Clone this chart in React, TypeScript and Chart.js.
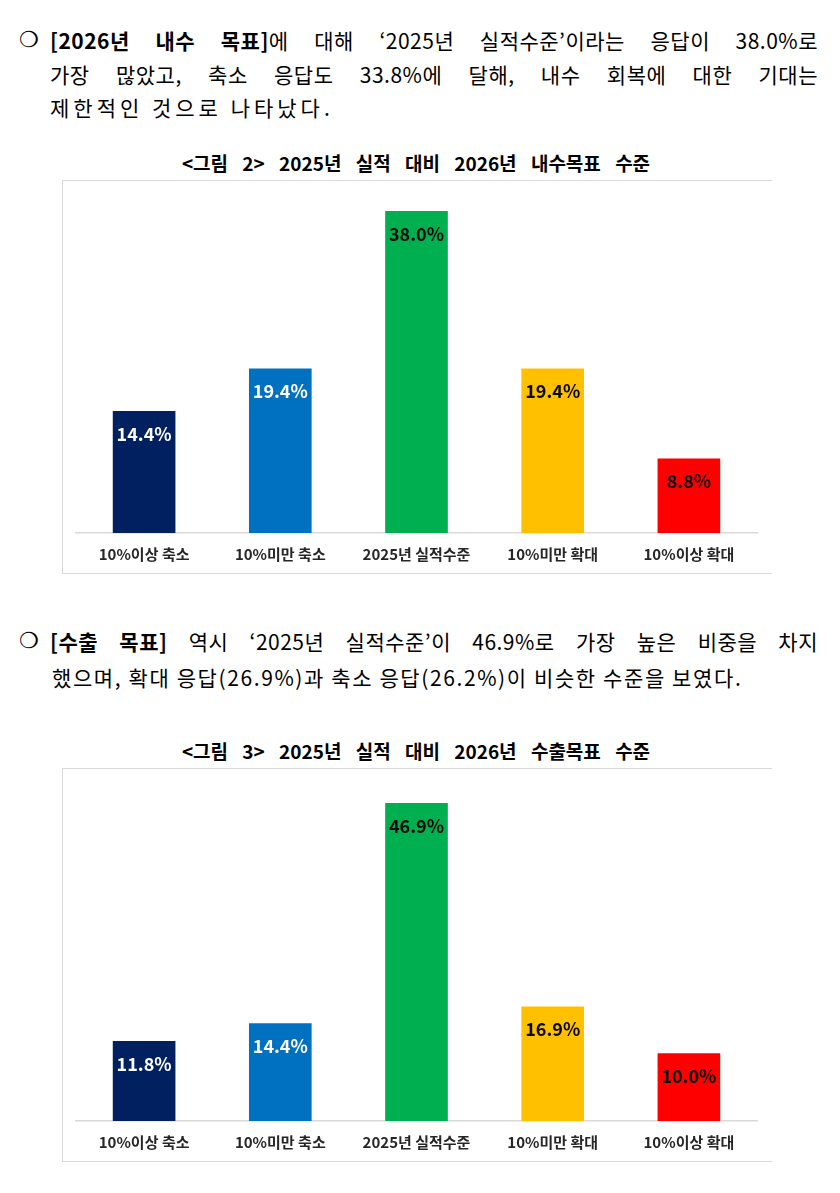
import React, { useEffect, useRef } from "react";
import { Chart, registerables } from "chart.js";

Chart.register(...registerables);

const categories = ["10%이상 축소", "10%미만 축소", "2025년 실적수준", "10%미만 확대", "10%이상 확대"];
const domesticValues = [14.4, 19.4, 38.0, 19.4, 8.8];
const exportValues = [11.8, 14.4, 46.9, 16.9, 10.0];
const barColors = ["#002060", "#0070C0", "#00B050", "#FFC000", "#FF0000"];
const labelColors = ["#ffffff", "#ffffff", "#0a0a0a", "#0a0a0a", "#0a0a0a"];
const domesticMax = 40;
const exportMax = 50;

const KFONT = '"Noto Sans CJK KR", "Noto Sans", sans-serif';

const labelPlugin = {
  id: "barLabels",
  afterDatasetsDraw(chart: any) {
    const ctx = chart.ctx;
    const meta = chart.getDatasetMeta(0);
    const data = chart.data.datasets[0].data as number[];
    ctx.save();
    ctx.font = `bold 18px ${KFONT}`;
    ctx.textAlign = "center";
    ctx.textBaseline = "middle";
    meta.data.forEach((el: any, i: number) => {
      ctx.fillStyle = labelColors[i];
      ctx.fillText(`${data[i].toFixed(1)}%`, el.x, el.y + 23);
    });
    ctx.restore();
  },
};

function BarChart({ values, max, top }: { values: number[]; max: number; top: number }) {
  const ref = useRef<HTMLCanvasElement>(null);
  useEffect(() => {
    if (!ref.current) return;
    const chart = new Chart(ref.current, {
      type: "bar",
      data: {
        labels: categories,
        datasets: [
          {
            data: values,
            backgroundColor: barColors,
            barPercentage: 0.46,
            categoryPercentage: 1,
          },
        ],
      },
      options: {
        animation: false,
        responsive: false,
        maintainAspectRatio: false,
        layout: { padding: { left: 14, right: 14, top: 14, bottom: 0 } },
        plugins: {
          legend: { display: false },
          tooltip: { enabled: false },
          title: { display: false },
        },
        scales: {
          x: {
            grid: { display: false, drawTicks: false },
            border: { display: true, color: "#d9d9d9", width: 1.5 },
            ticks: {
              padding: 12,
              color: "#262626",
              font: { family: KFONT, size: 15, weight: "bold" },
            },
          },
          y: { display: false, min: 0, max: max },
        },
      },
      plugins: [labelPlugin],
    } as any);
    return () => chart.destroy();
  }, [values, max]);
  return (
    <>
      <div
        style={{
          position: "absolute",
          left: 62,
          top: top,
          width: 710,
          height: 394,
          borderTop: "1.5px solid #d9d9d9",
          borderLeft: "1.5px solid #d9d9d9",
          borderBottom: "1.5px solid #d9d9d9",
          boxSizing: "border-box",
        }}
      />
      <canvas
        ref={ref}
        width={709}
        height={395}
        style={{ position: "absolute", left: 62, top: top, width: 709, height: 395 }}
      />
    </>
  );
}

function Line({ y, children, justify = true, left = 50, spacing = 0.5 }: any) {
  return (
    <div
      style={{
        position: "absolute",
        left,
        top: y - 13,
        width: 818 - left,
        height: 26,
        lineHeight: "26px",
        fontSize: 21,
        letterSpacing: spacing,
        fontFamily: KFONT,
        color: "#000",
        textAlign: justify ? "justify" : "left",
        textAlignLast: justify ? "justify" : "left",
        whiteSpace: "nowrap",
      } as any}
    >
      {children}
    </div>
  );
}

function Bullet({ y }: { y: number }) {
  return (
    <div
      style={{
        position: "absolute",
        left: 19,
        top: y - 14,
        height: 28,
        lineHeight: "28px",
        fontSize: 22,
        fontWeight: "bold",
        fontFamily: '"DejaVu Sans", sans-serif',
        color: "#000",
      }}
    >
      ❍
    </div>
  );
}

function Title({ y, text }: { y: number; text: string }) {
  return (
    <div
      style={{
        position: "absolute",
        left: 0,
        width: 832,
        top: y - 12,
        height: 24,
        lineHeight: "24px",
        textAlign: "center",
        fontFamily: KFONT,
        fontWeight: "bold",
        fontSize: 19,
        wordSpacing: 10,
        color: "#000",
      }}
    >
      {text}
    </div>
  );
}

export default function App() {
  return (
    <div
      style={{
        position: "absolute",
        left: 0,
        top: 0,
        width: 840,
        height: 1193,
        background: "#fff",
        overflow: "hidden",
      }}
    >
      <Bullet y={40} />
      <Line y={40}>
        <b>[2026년 내수 목표]</b>에 대해 ‘2025년 실적수준’이라는 응답이 38.0%로
      </Line>
      <Line y={74}>가장 많았고, 축소 응답도 33.8%에 달해, 내수 회복에 대한 기대는</Line>
      <Line y={107} justify={false} spacing={4}>
        제한적인 것으로 나타났다.
      </Line>

      <Title y={163} text="<그림 2> 2025년 실적 대비 2026년 내수목표 수준" />
      <BarChart values={domesticValues} max={domesticMax} top={180} />

      <Bullet y={641} />
      <Line y={641}>
        <b>[수출 목표]</b> 역시 ‘2025년 실적수준’이 46.9%로 가장 높은 비중을 차지
      </Line>
      <Line y={677} justify={false} left={52} spacing={1.6}>
        했으며, 확대 응답(26.9%)과 축소 응답(26.2%)이 비슷한 수준을 보였다.
      </Line>

      <Title y={751} text="<그림 3> 2025년 실적 대비 2026년 수출목표 수준" />
      <BarChart values={exportValues} max={exportMax} top={768} />
    </div>
  );
}
